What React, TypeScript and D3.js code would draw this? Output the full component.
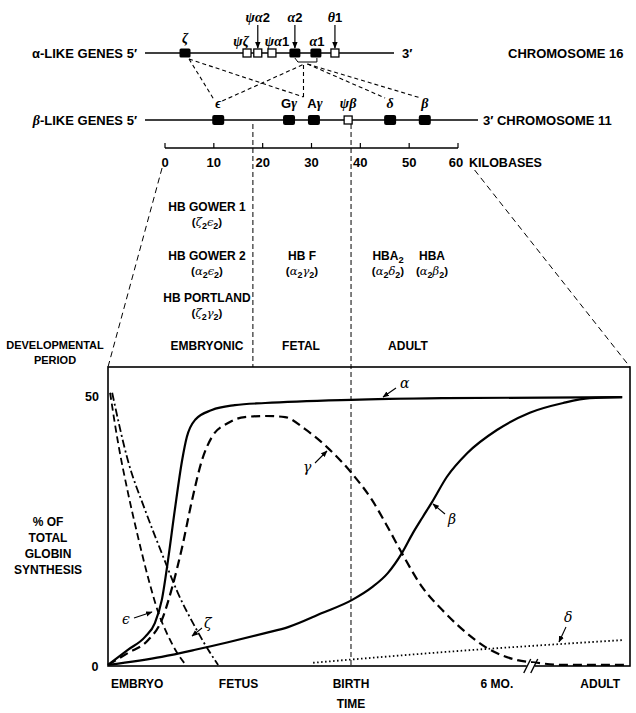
import React from 'react';
import * as d3 from 'd3';

const W = 636, H = 713;
const SANS = '"Liberation Sans", Arial, Helvetica, sans-serif';
const GREEK = '"DejaVu Serif", "Liberation Serif", serif';
const GREEK_BOLD = '"Liberation Serif", "DejaVu Serif", serif';

// ---------- Gene map (kilobases) ----------
const kbTicks = [0, 10, 20, 30, 40, 50, 60];
const alphaGeneNames = ['ζ', 'ψζ', 'ψα2', 'ψα1', 'α2', 'α1', 'θ1'];
const alphaGeneKb = [4.1, 16.8, 19.0, 21.9, 26.6, 30.9, 34.8];
const alphaGeneActive = [true, false, false, false, true, true, false];
const betaGeneNames = ['ϵ', 'Gγ', 'Aγ', 'ψβ', 'δ', 'β'];
const betaGeneKb = [10.9, 25.4, 30.5, 37.5, 46.1, 53.2];
const betaGeneActive = [true, true, true, false, true, true];
const alphaClusterSpan = [-4.1, 46.9];
const betaClusterSpan = [-4.1, 64.1];
const periodBoundariesKb = [18.0, 38.1];

// ---------- Hemoglobins & periods ----------
const hbNames = ['HB GOWER 1', 'HB GOWER 2', 'HB PORTLAND', 'HB F', 'HBA_2', 'HBA'];
const hbChains = ['(ζ_2ϵ_2)', '(α_2ϵ_2)', '(ζ_2γ_2)', '(α_2γ_2)', '(α_2δ_2)', '(α_2β_2)'];
const periodNames = ['EMBRYONIC', 'FETAL', 'ADULT'];

// ---------- Synthesis chart ----------
const yTicks = [0, 50];
const timeLabels = ['EMBRYO', 'FETUS', 'BIRTH', '6 MO.', 'ADULT'];
const timeLabelT = [5.6, 25.0, 46.55, 74.5, 94.3];
const birthT = 46.55;
const breakT = 80.6;

const alphaChain: [number, number][] = [
  [0, 0.2], [3.8, 3.0], [7.1, 5.4], [9.0, 8.0], [10.3, 12.2], [11.5, 19.6], [12.8, 28.9],
  [14.2, 38.1], [15.1, 42.4], [16.7, 45.6], [19.9, 47.4], [24.3, 48.3], [30.1, 48.7],
  [46.6, 49.3], [64.6, 49.6], [98.5, 49.8],
];
const gammaChain: [number, number][] = [
  [0, 0.2], [3.8, 2.4], [7.7, 4.8], [10.3, 8.5], [12.3, 14.6], [14.2, 22.0], [16.1, 30.7],
  [18.0, 38.1], [19.9, 42.4], [23.0, 45.0], [26.2, 46.1], [30.1, 46.3], [33.9, 46.1],
  [37.7, 43.9], [42.1, 40.4], [46.7, 35.7], [50.6, 30.7], [53.6, 25.7], [56.3, 20.9],
  [60.2, 14.6], [64.0, 10.4], [67.4, 7.2], [73.2, 3.0], [78.4, 1.1], [82.2, 0.6],
  [86.6, 0.2], [99.0, 0.2],
];
const betaChain: [number, number][] = [
  [0, 0.2], [10.3, 1.7], [16.7, 3.0], [23.0, 4.4], [30.1, 6.1], [34.5, 7.2], [41.0, 9.8],
  [46.7, 12.2], [50.6, 14.6], [53.6, 17.2], [56.3, 20.9], [58.4, 24.6], [60.3, 27.6],
  [62.1, 30.4], [64.9, 35.0], [68.8, 39.4], [74.5, 43.7], [80.8, 46.9], [87.2, 48.7],
  [92.3, 49.6], [98.5, 49.8],
];
const epsilonChain: [number, number][] = [
  [0.4, 50.6], [1.9, 41.5], [3.8, 32.2], [5.7, 24.1], [7.7, 16.3], [9.6, 10.0],
  [11.5, 5.6], [13.4, 2.2], [14.9, 0.2],
];
const zetaChain: [number, number][] = [
  [0.8, 50.6], [3.8, 38.1], [7.1, 28.9], [10.3, 20.9], [13.4, 13.5], [16.7, 7.2], [19.2, 3.0], [21.1, 0.2],
];
const deltaChain: [number, number][] = [
  [39.3, 0.6], [64.6, 2.6], [98.7, 4.8],
];

// ---------- helpers ----------
const isGreek = (c: string) => /[\u0370-\u03ff]/.test(c);

function GeneLabel({ x, y, label, size = 13 }: { x: number; y: number; label: string; size?: number }) {
  return (
    <text x={x} y={y} textAnchor="middle" fontSize={size}>
      {label.split('').map((c, i) =>
        isGreek(c) ? (
          <tspan key={i} fontFamily={GREEK_BOLD} fontStyle="italic" fontWeight="bold" fontSize={size + 1}>{c}</tspan>
        ) : (
          <tspan key={i} fontFamily={SANS} fontWeight="bold">{c}</tspan>
        )
      )}
    </text>
  );
}

// "_x" => subscript x
function Formula({ x, y, s, size = 11 }: { x: number; y: number; s: string; size?: number }) {
  const parts: { t: string; sub: boolean }[] = [];
  for (let i = 0; i < s.length; i++) {
    if (s[i] === '_') { parts.push({ t: s[i + 1], sub: true }); i++; }
    else parts.push({ t: s[i], sub: false });
  }
  let shifted = false;
  return (
    <text x={x} y={y} textAnchor="middle" fontSize={size} fontFamily={SANS} fontWeight="bold">
      {parts.map((p, i) => {
        let dy = 0;
        if (p.sub && !shifted) { dy = 3; shifted = true; }
        else if (!p.sub && shifted) { dy = -3; shifted = false; }
        const greek = isGreek(p.t);
        return (
          <tspan key={i} dy={dy || undefined} fontSize={p.sub ? size * 0.78 : size}
            fontFamily={greek ? GREEK : SANS} fontStyle={greek ? 'italic' : 'normal'}
            fontWeight={greek ? 'normal' : 'bold'}>{p.t}</tspan>
        );
      })}
    </text>
  );
}

export default function App() {
  // gene map scales
  const kbX = d3.scaleLinear().domain([0, 60]).range([165, 458]);
  const alphaY = 53, betaY = 120, kbAxisY = 148;

  // chart scales
  const left = 108, right = 630, top = 367, bottom = 666;
  const x = d3.scaleLinear().domain([0, 100]).range([left, right]);
  const y = d3.scaleLinear().domain([0, 50]).range([bottom, 396]);
  const line = d3.line<[number, number]>().x(d => x(d[0])).y(d => y(d[1])).curve(d3.curveMonotoneX);

  const ax = (n: string) => kbX(alphaGeneKb[alphaGeneNames.indexOf(n)]);
  const bx = (n: string) => kbX(betaGeneKb[betaGeneNames.indexOf(n)]);
  const zetaX = ax('ζ');
  const epsX = bx('ϵ');
  const gamMid = (bx('Gγ') + bx('Aγ')) / 2;
  const a2x = ax('α2'), a1x = ax('α1');
  const aMid = (a2x + a1x) / 2;
  const deltaX = bx('δ'), betaX = bx('β');

  const arrowedAlpha = new Set(['ψα2', 'α2', 'θ1']);
  const alphaLabelDx: Record<string, number> = { 'ψζ': -6, 'ψα1': 5, 'α1': 1, 'ζ': 0 };

  const dash = '4,3';
  const boundaryPx = periodBoundariesKb.map(k => kbX(k));
  const birthX = x(birthT);

  return (
    <svg width={W} height={H} style={{ position: 'absolute', left: 0, top: 0, background: '#fff' }}
      fontFamily={SANS}>
      <defs>
        <marker id="ah" viewBox="0 0 10 10" refX="9" refY="5" markerWidth="6" markerHeight="6" orient="auto">
          <path d="M0,1 L10,5 L0,9 z" fill="#000" />
        </marker>
      </defs>
      <rect x={0} y={0} width={W} height={H} fill="#fff" />

      {/* ---- α-like row ---- */}
      <text x={137} y={alphaY + 5} textAnchor="end" fontSize={13} fontWeight="bold">α-LIKE GENES 5′</text>
      <line x1={kbX(alphaClusterSpan[0])} x2={kbX(alphaClusterSpan[1])} y1={alphaY} y2={alphaY} stroke="#000" strokeWidth={1.5} />
      <text x={402} y={alphaY + 5} fontSize={13} fontWeight="bold">3′</text>
      <text x={508} y={alphaY + 5} fontSize={13} fontWeight="bold">CHROMOSOME 16</text>
      {alphaGeneNames.map((n, i) => {
        const gx = kbX(alphaGeneKb[i]);
        const active = alphaGeneActive[i];
        const arrowed = arrowedAlpha.has(n);
        return (
          <g key={n}>
            {active ? (
              <rect x={gx - 5.5} y={alphaY - 4.5} width={11} height={9} rx={1.5} fill="#000" />
            ) : (
              <rect x={gx - 4} y={alphaY - 4} width={8} height={8} fill="#fff" stroke="#000" strokeWidth={1.3} />
            )}
            {arrowed ? (
              <>
                <GeneLabel x={gx} y={22} label={n} />
                <line x1={gx} x2={gx} y1={25} y2={alphaY - 5} stroke="#000" strokeWidth={1.2} markerEnd="url(#ah)" />
              </>
            ) : (
              <GeneLabel x={gx + (alphaLabelDx[n] || 0)} y={n === 'ζ' ? 43 : 46} label={n} />
            )}
          </g>
        );
      })}

      {/* connectors */}
      <g stroke="#000" strokeWidth={1.1} strokeDasharray={dash} fill="none">
        <line x1={zetaX + 4} y1={alphaY + 6} x2={epsX - 4} y2={betaY - 20} />
        <line x1={zetaX + 4} y1={alphaY + 6} x2={gamMid + 2} y2={betaY - 23} />
        <line x1={gamMid + 2} y1={betaY - 23} x2={gamMid + 2} y2={alphaY + 11} />
        <line x1={epsX + 4} y1={betaY - 19} x2={aMid - 1} y2={alphaY + 11} />
        <line x1={aMid + 2} y1={alphaY + 11} x2={deltaX - 5} y2={betaY - 22} />
        <line x1={aMid + 2} y1={alphaY + 11} x2={betaX - 4} y2={betaY - 22} />
        <path d={`M${a2x},${alphaY + 5} L${a2x + 3},${alphaY + 9} L${a1x + 1},${alphaY + 9} L${a1x + 1},${alphaY + 5}`} strokeDasharray="none" strokeWidth={1} />
      </g>

      {/* ---- β-like row ---- */}
      <text x={137} y={betaY + 5} textAnchor="end" fontSize={13} fontWeight="bold">
        <tspan fontFamily={GREEK_BOLD} fontStyle="italic" fontSize={14}>β</tspan>-LIKE GENES 5′
      </text>
      <line x1={kbX(betaClusterSpan[0])} x2={kbX(betaClusterSpan[1])} y1={betaY} y2={betaY} stroke="#000" strokeWidth={1.5} />
      <text x={483} y={betaY + 5} fontSize={13} fontWeight="bold">3′ CHROMOSOME 11</text>
      {betaGeneNames.map((n, i) => {
        const gx = kbX(betaGeneKb[i]);
        return (
          <g key={n}>
            {betaGeneActive[i] ? (
              <rect x={gx - 6} y={betaY - 5} width={12} height={10} rx={2} fill="#000" />
            ) : (
              <rect x={gx - 4} y={betaY - 4} width={8} height={8} fill="#fff" stroke="#000" strokeWidth={1.3} />
            )}
            <GeneLabel x={gx + (n === 'Aγ' ? 1 : 0)} y={108} label={n} />
          </g>
        );
      })}

      {/* ---- kb axis ---- */}
      <line x1={kbX(0)} x2={kbX(60)} y1={kbAxisY} y2={kbAxisY} stroke="#000" strokeWidth={1.3} />
      {kbTicks.map(t => (
        <g key={t}>
          <line x1={kbX(t)} x2={kbX(t)} y1={kbAxisY} y2={kbAxisY - 5} stroke="#000" strokeWidth={1.2} />
          <text x={kbX(t) - (t === 60 ? 2 : 0)} y={kbAxisY + 19} textAnchor="middle" fontSize={13} fontWeight="bold">{t}</text>
        </g>
      ))}
      <text x={469} y={kbAxisY + 19} fontSize={12.5} fontWeight="bold">KILOBASES</text>

      {/* period boundaries & projections */}
      <g stroke="#000" strokeWidth={1} strokeDasharray="5,3" fill="none">
        <line x1={boundaryPx[0]} x2={boundaryPx[0]} y1={betaY + 4} y2={top} />
        <line x1={boundaryPx[1]} x2={birthX} y1={betaY + 4} y2={bottom} />
        <line x1={kbX(-0.6)} y1={168} x2={left} y2={top} strokeDasharray="6,4" />
        <line x1={kbX(63.4)} y1={170} x2={right} y2={top} strokeDasharray="6,4" />
      </g>

      {/* hemoglobin labels */}
      {[
        [207, 211], [207, 260], [207, 302], [302, 260], [388, 260], [432, 260],
      ].map(([hx, hy], i) => (
        <g key={i}>
          <Formula x={hx} y={hy} s={hbNames[i]} size={12} />
          <Formula x={hx} y={hy + 15} s={hbChains[i]} size={11.5} />
        </g>
      ))}

      {/* period labels */}
      <text x={55} y={349} textAnchor="middle" fontSize={11} fontWeight="bold">DEVELOPMENTAL</text>
      <text x={55} y={364} textAnchor="middle" fontSize={11} fontWeight="bold">PERIOD</text>
      {periodNames.map((p, i) => (
        <text key={p} x={[207, 301, 408][i]} y={350} textAnchor="middle" fontSize={12} fontWeight="bold">{p}</text>
      ))}

      {/* ---- chart ---- */}
      <rect x={left} y={top} width={right - left} height={bottom - top} fill="none" stroke="#000" strokeWidth={1.6} />
      {yTicks.map(t => (
        <text key={t} x={t === 0 ? 95 : 92} y={y(t) + 5} textAnchor="middle" fontSize={12.5} fontWeight="bold">{t}</text>
      ))}
      {['% OF', 'TOTAL', 'GLOBIN', 'SYNTHESIS'].map((s, i) => (
        <text key={s} x={48} y={526 + i * 16} textAnchor="middle" fontSize={12} fontWeight="bold">{s}</text>
      ))}

      <g fill="none" stroke="#000" strokeLinecap="butt">
        <path d={line(deltaChain) || ''} strokeWidth={1.8} strokeDasharray="1.5,2.5" />
        <path d={line(epsilonChain) || ''} strokeWidth={1.8} strokeDasharray="7,4" />
        <path d={line(zetaChain) || ''} strokeWidth={1.8} strokeDasharray="8,3,2,3" />
        <path d={line(gammaChain) || ''} strokeWidth={2.2} strokeDasharray="9,5" />
        <path d={line(betaChain) || ''} strokeWidth={2.2} />
        <path d={line(alphaChain) || ''} strokeWidth={2.2} />
      </g>

      {/* axis break */}
      <g>
        <rect x={x(breakT) - 2} y={bottom - 3} width={8} height={6} fill="#fff" />
        <line x1={x(breakT) - 5} y1={bottom + 7} x2={x(breakT) + 2} y2={bottom - 7} stroke="#000" strokeWidth={1.4} />
        <line x1={x(breakT) + 2} y1={bottom + 7} x2={x(breakT) + 9} y2={bottom - 7} stroke="#000" strokeWidth={1.4} />
      </g>

      {/* curve labels */}
      <g fontFamily={GREEK} fontStyle="italic" fontSize={14}>
        <text x={400} y={388}>α</text>
        <text x={303} y={472}>γ</text>
        <text x={448} y={524}>β</text>
        <text x={564} y={622}>δ</text>
        <text x={122} y={624}>ϵ</text>
        <text x={204} y={628}>ζ</text>
      </g>
      <g stroke="#000" strokeWidth={1.1}>
        <line x1={396} y1={388} x2={383} y2={397} markerEnd="url(#ah)" />
        <line x1={315} y1={463} x2={327} y2={451} markerEnd="url(#ah)" />
        <line x1={445} y1={514} x2={433} y2={504} markerEnd="url(#ah)" />
        <line x1={566} y1={627} x2={559} y2={642} markerEnd="url(#ah)" />
        <line x1={134} y1={618} x2={152} y2={612} markerEnd="url(#ah)" />
        <line x1={202} y1={628} x2={192} y2={636} markerEnd="url(#ah)" />
      </g>

      {/* time axis labels */}
      {timeLabels.map((l, i) => (
        <text key={l} x={x(timeLabelT[i])} y={688} textAnchor="middle" fontSize={12} fontWeight="bold">{l}</text>
      ))}
      <text x={birthX} y={708} textAnchor="middle" fontSize={12} fontWeight="bold">TIME</text>
    </svg>
  );
}
